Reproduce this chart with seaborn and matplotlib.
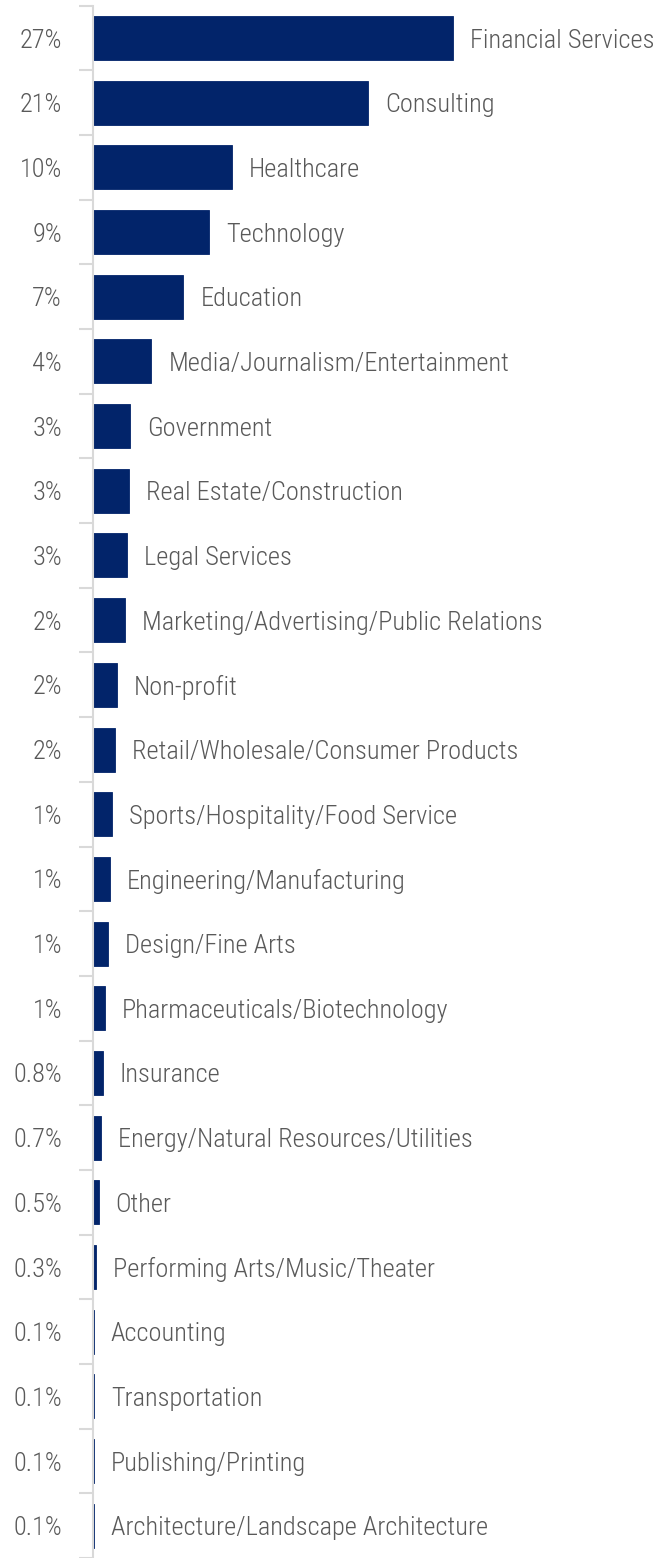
import matplotlib
matplotlib.use("Agg")
import matplotlib.pyplot as plt
import matplotlib.transforms as mtransforms
from matplotlib import font_manager
import pandas as pd
import seaborn as sns

industries = [
    "Financial Services", "Consulting", "Healthcare", "Technology", "Education",
    "Media/Journalism/Entertainment", "Government", "Real Estate/Construction",
    "Legal Services", "Marketing/Advertising/Public Relations", "Non-profit",
    "Retail/Wholesale/Consumer Products", "Sports/Hospitality/Food Service",
    "Engineering/Manufacturing", "Design/Fine Arts", "Pharmaceuticals/Biotechnology",
    "Insurance", "Energy/Natural Resources/Utilities", "Other",
    "Performing Arts/Music/Theater", "Accounting", "Transportation",
    "Publishing/Printing", "Architecture/Landscape Architecture",
]
shares = [27, 20.6, 10.4, 8.7, 6.8, 4.4, 2.8, 2.7, 2.55, 2.4, 1.85, 1.7, 1.45,
          1.3, 1.15, 0.93, 0.78, 0.63, 0.46, 0.25, 0.1, 0.1, 0.1, 0.1]
share_labels = ["27%", "21%", "10%", "9%", "7%", "4%", "3%", "3%", "3%", "2%",
                "2%", "2%", "1%", "1%", "1%", "1%", "0.8%", "0.7%", "0.5%",
                "0.3%", "0.1%", "0.1%", "0.1%", "0.1%"]

df = pd.DataFrame({"industry": industries, "share": shares})

sns.set_style("white")
installed = {f.name for f in font_manager.fontManager.ttflist}
# a light condensed face is what the original uses; take what is there
cond = [f for f in font_manager.fontManager.ttflist
        if f.name == "Open Sans Condensed" and f.weight in (300, "light")]
if cond:
    narrow = ["Open Sans Condensed", "DejaVu Sans"]
else:
    narrow = [f for f in ["Liberation Sans Narrow", "Roboto Condensed",
                          "Open Sans", "DejaVu Sans"] if f in installed]
plt.rcParams["font.family"] = narrow

navy = "#02246a"
grey_text = "#595959"
grey_line = "#d9d9d9"

fig = plt.figure(figsize=(6.66, 15.58), dpi=100)
ax = fig.add_axes([92.5 / 666, 0, 1 - 92.5 / 666, 1 - 5.7 / 1558])

sns.barplot(data=df, x="share", y="industry", orient="h", color=navy,
            width=0.68, saturation=1, edgecolor=navy, linewidth=0.6, ax=ax)

ax.set_xlim(0, 573.5 / 13.37)
ax.set_ylim(23.38, -0.5)
ax.set_xlabel("")
ax.set_ylabel("")
ax.set_xticks([])
ax.set_yticks([i - 0.5 for i in range(len(industries) + 1)])
ax.set_yticklabels([])
ax.tick_params(axis="y", length=10, width=1.5, color=grey_line, left=True)
sns.despine(ax=ax, top=True, right=True, bottom=True)
ax.spines["left"].set_color(grey_line)
ax.spines["left"].set_linewidth(1.5)

trans = mtransforms.blended_transform_factory(ax.transAxes, ax.transData)
for i, (val, lab, name) in enumerate(zip(shares, share_labels, industries)):
    ax.text(-0.053, i + 0.04, lab, transform=trans, ha="right", va="center",
            fontsize=19, color=grey_text, fontweight="light")
    ax.text(val + 1.27, i + 0.04, name, ha="left", va="center",
            fontsize=19, color=grey_text, fontweight="light")

fig.savefig("out.png", dpi=100)
